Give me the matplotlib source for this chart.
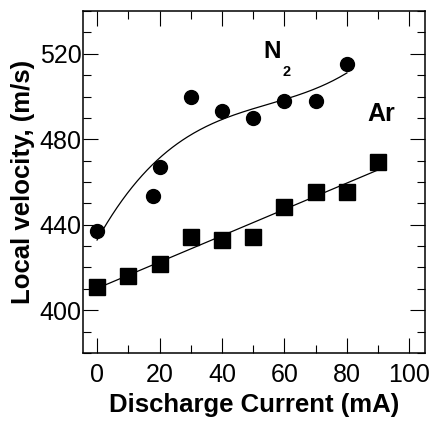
import numpy as np
import matplotlib
matplotlib.use("Agg")
import matplotlib.pyplot as plt
from matplotlib.ticker import MultipleLocator

plt.rcParams['font.family'] = ['Liberation Sans', 'DejaVu Sans']

# N2 data (circles)
n2_current = [0, 18, 20, 30, 40, 50, 60, 70, 80]
n2_velocity = [437, 453.5, 467, 500, 493, 490, 498, 498, 515]

# Ar data (squares)
ar_current = [0, 10, 20, 30, 40, 50, 60, 70, 80, 90]
ar_velocity = [411, 416, 421.5, 434.5, 433, 434.5, 448.5, 455.5, 455.5, 469.5]

fig = plt.figure(figsize=(4.3, 4.21), dpi=100)
ax = fig.add_axes([83 / 430, 1 - 353 / 421, 342 / 430, 342 / 421])

# fitted curves
xs = np.linspace(0, 80, 200)
p3 = np.polyfit(n2_current, n2_velocity, 3)
ax.plot(xs, np.polyval(p3, xs), color='black', lw=0.9)
xa = np.linspace(0, 90, 100)
p1 = np.polyfit(ar_current, ar_velocity, 1)
ax.plot(xa, np.polyval(p1, xa), color='black', lw=0.9)

ax.plot(n2_current, n2_velocity, 'o', color='black', ms=10, ls='none')
ax.plot(ar_current, ar_velocity, 's', color='black', ms=12, ls='none')

ax.text(55.9, 520.9, 'N', fontsize=17.5, fontweight='bold', ha='center', va='center')
ax.text(60.6, 511.6, '2', fontsize=10.5, fontweight='bold', ha='center', va='center')
ax.text(90.9, 491.9, 'Ar', fontsize=18, fontweight='bold', ha='center', va='center')

ax.set_xlim(-4.5, 105)
ax.set_ylim(380, 540)
ax.xaxis.set_major_locator(MultipleLocator(20))
ax.xaxis.set_minor_locator(MultipleLocator(10))
ax.yaxis.set_major_locator(MultipleLocator(40))
ax.yaxis.set_minor_locator(MultipleLocator(10))
ax.tick_params(which='both', direction='in', top=True, right=True, labelsize=18, width=0.8)
ax.tick_params(which='major', length=10.5)
ax.tick_params(which='minor', length=5.5)
ax.tick_params(axis='x', which='major', pad=7.5)
ax.tick_params(axis='y', which='major', pad=1)
for s in ax.spines.values():
    s.set_linewidth(1.1)

ax.set_xlabel('Discharge Current (mA)', fontsize=18.5, fontweight='bold', labelpad=4)
ax.set_ylabel('Local velocity, (m/s)', fontsize=18.5, fontweight='bold', labelpad=3)

fig.savefig('out.png', dpi=100)
